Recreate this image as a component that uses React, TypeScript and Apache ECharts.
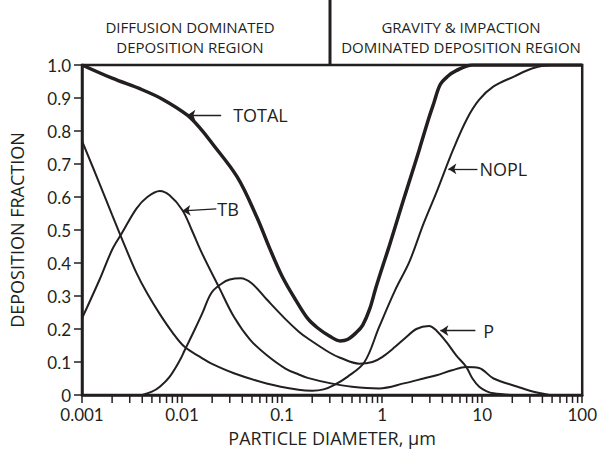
import React, { useEffect, useRef } from "react";
import * as echarts from "echarts";

const INK = "#231f20";
const FONT = '"Open Sans", "Noto Sans", sans-serif';
const TICK_FONT = 'Lato, "Open Sans", sans-serif';

// Tick values and labels
const xTickValues = [0.001, 0.01, 0.1, 1, 10, 100];
const xTickLabels = ["0.001", "0.01", "0.1", "1", "10", "100"];
const yTickLabels = ["0", "0.1", "0.2", "0.3", "0.4", "0.5", "0.6", "0.7", "0.8", "0.9", "1.0"];
const minorTickDecades = [0.001, 0.01, 0.1, 1, 10];
const minorTickSteps = [2, 3, 4, 5, 6, 7, 8, 9];

// Curves: [particle diameter (µm), deposition fraction]
const totalCurve: [number, number][] = [
  [0.001, 1.0], [0.002, 0.96], [0.004, 0.925], [0.0065, 0.895], [0.0113, 0.848],
  [0.0155, 0.805], [0.0197, 0.765], [0.0357, 0.66], [0.0557, 0.54], [0.075, 0.445],
  [0.1, 0.36], [0.1355, 0.29], [0.18, 0.232], [0.227, 0.203], [0.3, 0.178],
  [0.38, 0.164], [0.45, 0.168], [0.555, 0.19], [0.64, 0.212], [0.75, 0.26],
  [0.86, 0.322], [1.0, 0.385], [1.16, 0.445], [1.45, 0.54], [1.69, 0.605],
  [2.0, 0.675], [2.36, 0.745], [2.9, 0.835], [3.29, 0.885], [3.8, 0.94],
  [4.5, 0.965], [5.5, 0.983], [8, 1.0], [100, 1.0],
];

const noplCurve: [number, number][] = [
  [0.001, 0.77], [0.0015, 0.64], [0.002, 0.546], [0.00266, 0.454], [0.0035, 0.37],
  [0.00448, 0.308], [0.006, 0.245], [0.008, 0.19], [0.0106, 0.146], [0.0158, 0.112],
  [0.0197, 0.095], [0.033, 0.066], [0.07, 0.035], [0.146, 0.016], [0.2, 0.013],
  [0.26, 0.017], [0.33, 0.03], [0.45, 0.055], [0.667, 0.1], [0.93, 0.205],
  [1.35, 0.318], [1.88, 0.405], [2.6, 0.52], [3.5, 0.615], [5.1, 0.742],
  [7, 0.835], [9.3, 0.894], [13, 0.935], [20.8, 0.965], [32, 0.99], [50, 1.0], [100, 1.0],
];

const tbCurve: [number, number][] = [
  [0.001, 0.232], [0.0015, 0.35], [0.002, 0.44], [0.0025, 0.49], [0.0035, 0.565],
  [0.0045, 0.6], [0.006, 0.618], [0.0075, 0.605], [0.0101, 0.56], [0.0125, 0.5],
  [0.0158, 0.43], [0.0237, 0.323], [0.033, 0.237], [0.048, 0.167], [0.07, 0.121],
  [0.108, 0.08], [0.147, 0.062], [0.18, 0.052], [0.3, 0.036], [0.5, 0.025],
  [0.93, 0.02], [1.69, 0.036], [2.6, 0.05], [3.5, 0.06], [5, 0.075], [6.9, 0.085],
  [9.3, 0.082], [13, 0.05], [22.6, 0.025], [30, 0.013], [47, 0],
];

const pCurve: [number, number][] = [
  [0.004, 0], [0.005, 0.01], [0.006, 0.025], [0.0075, 0.055], [0.0095, 0.105],
  [0.0106, 0.135], [0.013, 0.19], [0.0158, 0.245], [0.0197, 0.31], [0.025, 0.338],
  [0.03, 0.35], [0.0385, 0.354], [0.05, 0.338], [0.07, 0.29], [0.108, 0.23],
  [0.147, 0.192], [0.18, 0.172], [0.3, 0.128], [0.38, 0.113], [0.59, 0.095],
  [0.8, 0.1], [1.0, 0.115], [1.35, 0.146], [1.69, 0.172], [2.2, 0.2], [2.94, 0.209],
  [3.5, 0.195], [4.4, 0.16], [5.5, 0.12], [6.9, 0.086], [8, 0.05], [9.35, 0.025],
  [11, 0.012], [13, 0.005], [19, 0],
];

// Curve labels: arrow tip on the curve, arrow tail near the label (data coords)
const labelTotal = { text: "TOTAL", tip: [0.0113, 0.848], tail: [0.0246, 0.848] };
const labelTB = { text: "TB", tip: [0.0101, 0.558], tail: [0.022, 0.564] };
const labelNOPL = { text: "NOPL", tip: [4.59, 0.685], tail: [8.96, 0.685] };
const labelP = { text: "P", tip: [3.82, 0.195], tail: [8.55, 0.195] };

const regionLeft = "DIFFUSION DOMINATED\nDEPOSITION REGION";
const regionRight = "GRAVITY & IMPACTION\nDOMINATED DEPOSITION REGION";

function arrowLabel(l: { text: string; tip: number[]; tail: number[] }, gap: number) {
  return {
    silent: true,
    symbol: ["arrow", "none"],
    symbolSize: 8,
    lineStyle: { color: INK, width: 1.3, type: "solid" },
    label: {
      show: true,
      position: "end",
      formatter: l.text,
      color: INK,
      fontSize: 18,
      fontFamily: FONT,
      distance: gap,
    },
    emphasis: { disabled: true },
    data: [[{ coord: l.tip }, { coord: l.tail }]],
  };
}

function xLabel(v: number) {
  const i = xTickValues.findIndex((t) => Math.abs(Math.log10(t) - Math.log10(v)) < 1e-6);
  return i >= 0 ? xTickLabels[i] : "";
}

export default function App() {
  const ref = useRef<HTMLDivElement>(null);
  useEffect(() => {
    if (!ref.current) return;
    const chart = echarts.init(ref.current, undefined, { renderer: "svg" });
    const minorTicks: number[][] = [];
    minorTickDecades.forEach((d) => minorTickSteps.forEach((s) => minorTicks.push([d * s, 0])));

    const lineBase = { type: "line", showSymbol: false, symbol: "none", smooth: 0.35, z: 3 };

    chart.setOption({
      animation: false,
      textStyle: { fontFamily: FONT, color: INK },
      grid: {
        left: 66, right: 17, top: 65, bottom: 57,
        show: true, borderColor: INK, borderWidth: 2.5, backgroundColor: "transparent",
      },
      xAxis: {
        type: "log",
        logBase: 10,
        min: 0.001,
        max: 100,
        name: "PARTICLE DIAMETER, µm",
        nameLocation: "middle",
        nameGap: 34,
        nameTextStyle: { fontSize: 18, color: INK, fontFamily: FONT },
        axisLine: { show: true, lineStyle: { color: INK, width: 2.5 } },
        axisTick: {
          show: true, length: 8, customValues: xTickValues,
          lineStyle: { color: INK, width: 1.5 },
        },
        minorTick: { show: false },
        axisLabel: {
          margin: 12,
          fontSize: 17,
          lineHeight: 14,
          color: INK,
          fontFamily: TICK_FONT,
          customValues: xTickValues,
          formatter: (v: number) => xLabel(v),
        },
        splitLine: { show: false },
      },
      yAxis: {
        type: "value",
        min: 0,
        max: 1,
        interval: 0.1,
        name: "DEPOSITION FRACTION",
        nameLocation: "middle",
        nameGap: 56,
        nameTextStyle: { fontSize: 18, color: INK, fontFamily: FONT },
        axisLine: { show: true, lineStyle: { color: INK, width: 2.5 } },
        axisTick: { show: true, length: 8, lineStyle: { color: INK, width: 1.5 } },
        axisLabel: {
          margin: 11,
          fontSize: 17,
          lineHeight: 12,
          padding: [0, 0, 6, 0],
          color: INK,
          fontFamily: TICK_FONT,
          formatter: (v: number) => yTickLabels[Math.round(v * 10)] ?? "",
        },
        splitLine: { show: false },
      },
      graphic: [
        {
          type: "text",
          x: 190,
          y: 37,
          style: {
            text: regionLeft, align: "center", verticalAlign: "middle",
            font: `15px ${FONT}`, fill: INK, lineHeight: 20,
          },
        },
        {
          type: "text",
          x: 461,
          y: 37,
          style: {
            text: regionRight, align: "center", verticalAlign: "middle",
            font: `15px ${FONT}`, fill: INK, lineHeight: 20,
          },
        },
        {
          type: "line",
          shape: { x1: 330, y1: 0, x2: 330, y2: 65 },
          style: { stroke: INK, lineWidth: 3 },
        },
      ],
      series: [
        {
          ...lineBase,
          name: "TOTAL",
          data: totalCurve,
          lineStyle: { color: INK, width: 3.5 },
          markLine: arrowLabel(labelTotal, 12),
        },
        {
          ...lineBase,
          name: "NOPL",
          data: noplCurve,
          lineStyle: { color: INK, width: 2 },
          markLine: arrowLabel(labelNOPL, 2),
        },
        {
          ...lineBase,
          name: "TB",
          data: tbCurve,
          lineStyle: { color: INK, width: 2 },
          markLine: arrowLabel(labelTB, 1),
        },
        {
          ...lineBase,
          name: "P",
          data: pCurve,
          lineStyle: { color: INK, width: 2 },
          markLine: arrowLabel(labelP, 8),
        },
        {
          type: "custom",
          name: "minorTicks",
          silent: true,
          clip: false,
          data: minorTicks,
          renderItem: (_params: any, api: any) => {
            const p = api.coord([api.value(0), 0]);
            return {
              type: "line",
              shape: { x1: p[0], y1: p[1], x2: p[0], y2: p[1] + 8 },
              style: { stroke: INK, lineWidth: 1.5 },
            };
          },
        },
      ],
    });
    return () => chart.dispose();
  }, []);
  return (
    <div
      ref={ref}
      style={{ position: "fixed", left: 0, top: 0, width: 600, height: 452, background: "#fff" }}
    />
  );
}
